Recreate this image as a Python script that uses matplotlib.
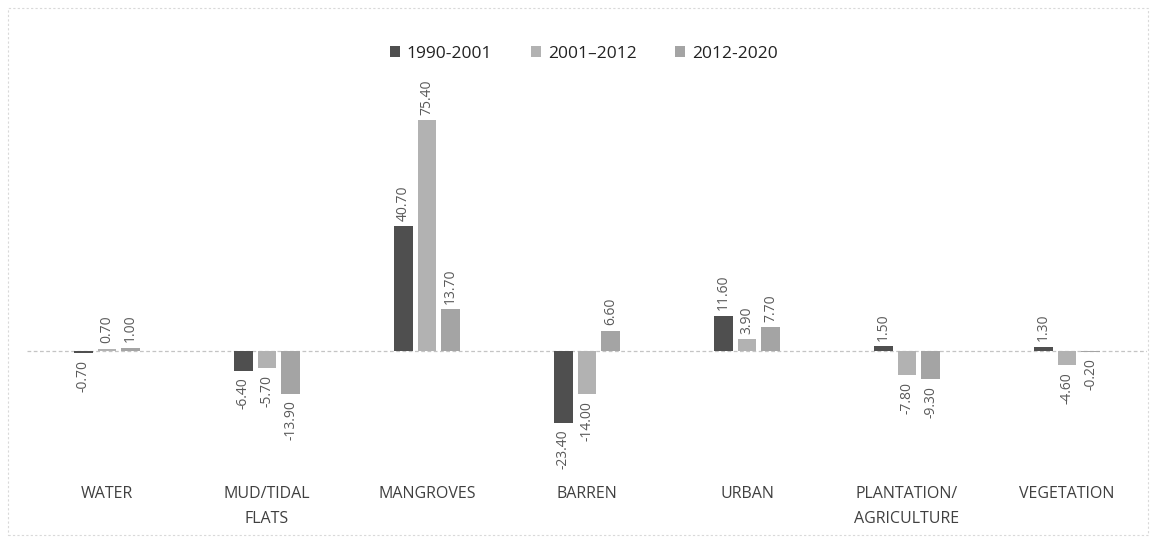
import numpy as np
import matplotlib
matplotlib.use("Agg")
import matplotlib.pyplot as plt

categories = ["WATER", "MUD/TIDAL\nFLATS", "MANGROVES", "BARREN", "URBAN",
              "PLANTATION/\nAGRICULTURE", "VEGETATION"]
series_names = ["1990-2001", "2001\u20132012", "2012-2020"]
v_1990_2001 = [-0.70, -6.40, 40.70, -23.40, 11.60, 1.50, 1.30]
v_2001_2012 = [0.70, -5.70, 75.40, -14.00, 3.90, -7.80, -4.60]
v_2012_2020 = [1.00, -13.90, 13.70, 6.60, 7.70, -9.30, -0.20]
colors = ["#4f4f4f", "#b2b2b2", "#a4a4a4"]

plt.rcParams['font.family'] = ['Open Sans', 'DejaVu Sans']

W, H = 1156, 543
fig = plt.figure(figsize=(W / 100, H / 100), dpi=100)
# axes placed in pixel terms: left 27, right 1147, top 70, bottom 480
ax = fig.add_axes([27 / W, 1 - 480 / H, 1120 / W, 410 / H])

x = np.arange(len(categories))
bw = 0.117
step = 0.147
for i, (vals, col, name) in enumerate(zip([v_1990_2001, v_2001_2012, v_2012_2020],
                                          colors, series_names)):
    xs = x + (i - 1) * step
    bars = ax.bar(xs, vals, width=bw, color=col, label=name, zorder=3)
    for b, v in zip(bars, vals):
        cx = b.get_x() + b.get_width() / 2
        if v >= 0:
            ax.annotate(f"{v:.2f}", (cx, v), xytext=(0, 4), textcoords="offset points",
                        rotation=90, ha="center", va="bottom", fontsize=10, color="#5a5a5a")
        else:
            ax.annotate(f"{v:.2f}", (cx, v), xytext=(0, -5), textcoords="offset points",
                        rotation=90, ha="center", va="top", fontsize=10, color="#5a5a5a")

ax.axhline(0, color="#c4c4c4", lw=0.9, ls=(0, (3, 2)), zorder=1)
ax.set_xlim(-0.5, len(categories) - 0.5)
ax.set_ylim(-(480 - 351) / 3.06, (351 - 70) / 3.06)
ax.set_xticks(x)
ax.set_xticklabels(categories, fontsize=11.5, color="#404040", linespacing=1.75)
ax.tick_params(axis="x", length=0, pad=4)
ax.set_yticks([])
for s in ax.spines.values():
    s.set_visible(False)

fig.legend(loc="upper center", bbox_to_anchor=(0.505, 1 - 30 / H), ncol=3, frameon=False,
           fontsize=12.5, handlelength=0.6, handleheight=0.6, handletextpad=0.4,
           columnspacing=2.2, labelcolor="#222222")

# faint chart-area border
fig.add_artist(plt.Rectangle((8 / W, 8 / H), 1 - 16 / W, 1 - 16 / H, transform=fig.transFigure,
                             fill=False, ec="#d9d9d9", lw=0.8, ls=(0, (2, 2))))

fig.savefig("out.png", dpi=100)
